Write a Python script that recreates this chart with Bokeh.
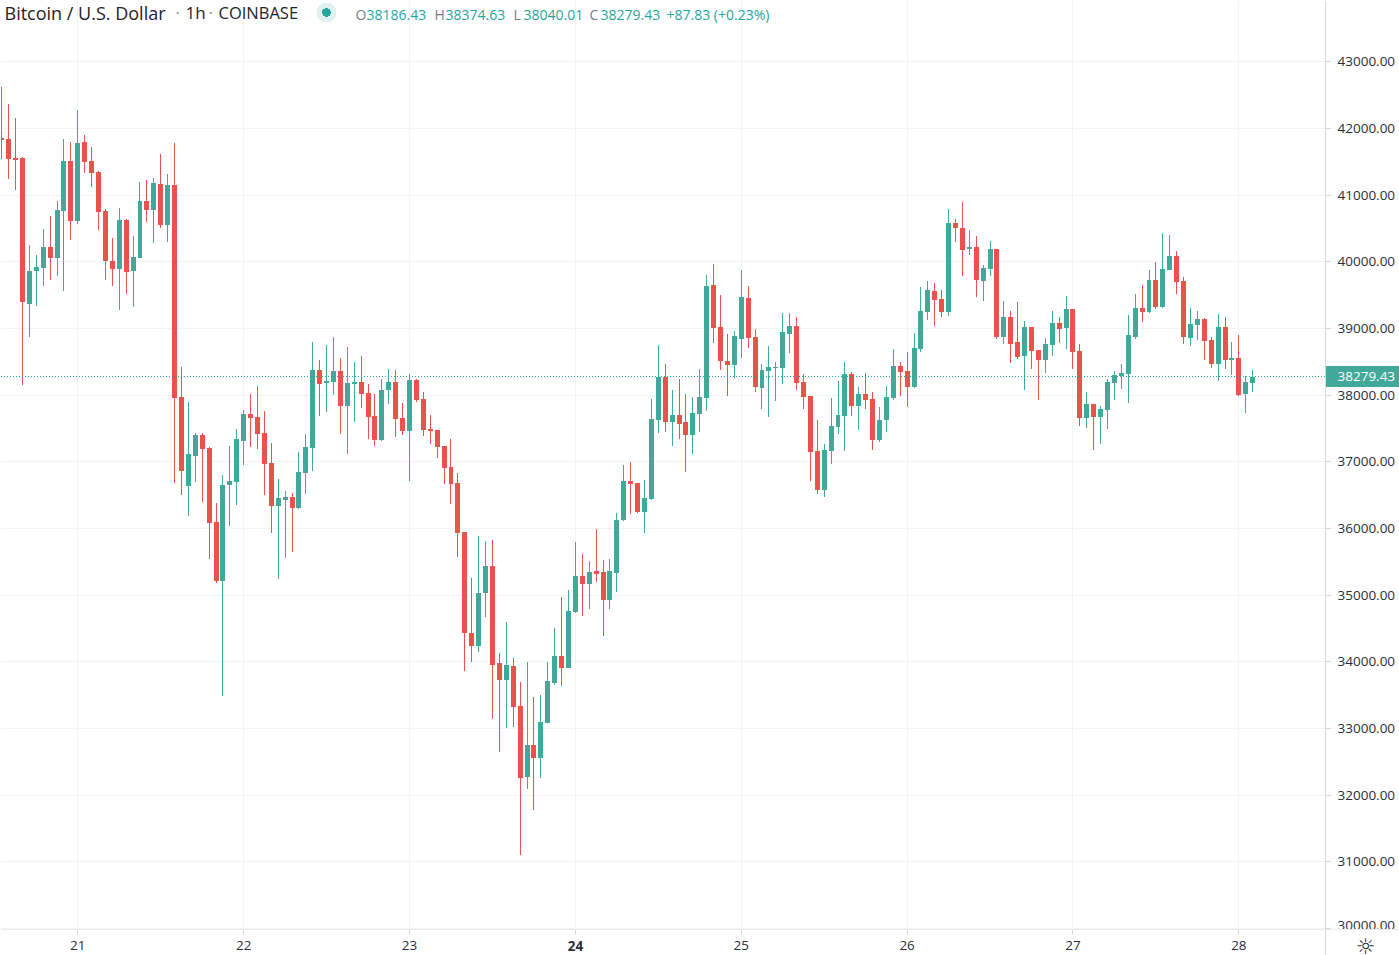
from bokeh.plotting import figure
from bokeh.layouts import column
from bokeh.models import (ColumnDataSource, FixedTicker, Label, LinearAxis, Span,
                          PrintfTickFormatter)
from bokeh.core.properties import value
from bokeh.embed import file_html
from bokeh.resources import INLINE

UP = "#42A99A"
DOWN = "#E9534B"
FONT = "Open Sans"
LINE = "#D6D8DB"

first_hour = -11
opens = [41865,41850,41565,41565,39375,39870,39915,40230,40065,40770,41520,
 40620,41805,41520,41355,40770,40020,39900,40635,39870,40065,40920,40785,41175,
 40560,41160,37980,36645,37095,37410,37215,36105,35220,36660,36705,37320,37725,
 37680,37440,36990,36345,36435,36480,36315,36840,37215,38385,38190,38205,38370,
 37845,38175,38205,38040,37695,37335,38085,38205,37665,
 37470,38235,37950,37500,37485,37245,36930,36690,35955,34440,34245,35040,35445,
 33990,33735,33945,33345,32280,32760,32565,33090,33690,34095,33915,34755,35295,
 35175,35370,35355,34935,35340,36135,36720,36690,36255,36450,
 37635,38280,37605,37710,37605,37410,37725,37965,39660,39030,38520,38460,38850,
 39465,38880,38115,38370,38415,38415,38925,39045,38205,37995,37170,36585,37170,
 37530,37695,38325,37845,38025,37950,37335,37635,37965,38445,
 38370,38130,38700,39255,39570,39450,39255,40590,40515,40200,40230,39720,39900,
 40200,38880,39180,38805,38595,39030,38685,38535,38760,39090,39015,39300,38670,
 37665,37875,37680,37785,38190,38295,38325,38880,39315,39255,39735,39330,39885,
 40095,39720,38865,39060,39150,38835,38475,39030,38535,38565,38025,38186.43]
highs = [42620,42375,42165,41580,40260,40110,40500,40695,40920,41850,41805,
 42285,41910,41730,41370,40800,40365,40815,40650,40395,41205,41235,41265,41625,
 41325,41790,38430,37905,37440,37440,37230,36390,36810,37245,37500,37785,38025,
 38145,37770,37290,36750,36570,36540,37155,37425,38805,38535,38760,38880,38565,
 38730,38505,38595,38175,38025,38250,38400,38385,37890,
 38325,38250,38055,37710,37485,37245,37350,36840,35955,35265,35895,35820,35835,
 34140,34605,34065,33705,34005,33480,33510,34005,34515,34980,35085,35805,35625,
 35520,36000,35535,35550,36240,36960,37005,36690,36735,37950,
 38760,38475,38085,38250,38025,37980,38400,39810,39975,39510,38925,38970,39885,
 39645,39000,38475,38745,38505,39240,39240,39180,38325,37995,37635,37275,37965,
 38220,38505,38355,38130,38340,38055,37830,38145,38700,38505,
 38655,38940,39630,39720,39690,39585,40800,40650,40905,40485,40395,39960,40320,
 40200,39420,39270,39405,39120,39030,38685,38865,39270,39180,39495,39300,38775,
 38055,37875,37845,38250,38370,38475,39210,39525,39660,39885,40005,40440,40410,
 40170,39780,39315,39270,39165,38880,39225,39180,38805,38910,38295,38374.63]
lows = [41550,41250,41085,38160,38880,39345,39645,39735,39795,39570,40335,
 40575,41340,41130,40485,39735,39645,39285,39525,39330,40065,40605,40290,40515,
 40305,36690,36510,36195,36705,36405,35550,35190,33495,36045,36360,36960,37230,
 37200,36510,35940,35250,35565,35655,36300,36525,36870,37695,37755,38010,37425,
 37125,37605,37815,37350,37245,37320,37875,37380,37410,
 36720,37905,37395,37275,37065,36675,36375,35580,33870,34005,34155,34680,33150,
 32655,33015,33030,31110,32100,31785,32265,33090,33660,33645,33915,34740,34695,
 34800,35205,34395,34800,35055,36120,36225,36240,35940,36435,
 37440,37455,37245,37350,36855,37125,37455,37770,38790,38385,37995,38265,38565,
 38715,38055,37800,37680,37920,38175,38640,38085,37800,36720,36525,36480,36975,
 37425,37170,37695,37485,37800,37185,37305,37455,37935,37995,
 37830,38115,38655,39135,39045,39180,39195,40305,39795,40110,39480,39420,39795,
 38850,38775,38490,38550,38085,38400,37935,38340,38595,38790,38700,38400,37545,
 37515,37185,37275,37500,37935,38100,37890,38850,39105,39240,39300,39315,39885,
 39525,38775,38745,38835,38535,38415,38220,38400,38310,37995,37740,38040.01]
closes = [41835,41550,41535,39405,39870,39930,40230,40065,40785,41520,40620,
 41790,41505,41340,40755,40020,39900,40635,39855,40080,40920,40785,41190,40560,
 41160,37965,36870,37125,37410,37200,36090,35220,36660,36720,37350,37725,37665,
 37425,36975,36345,36465,36480,36315,36855,37230,38385,38175,38220,38370,37845,
 38190,38205,38025,37680,37335,38085,38205,37650,37470,
 38235,37935,37485,37470,37230,36915,36675,35940,34440,34245,35040,35445,33960,
 33735,33960,33330,32265,32760,32565,33105,33720,34095,33915,34770,35295,35175,
 35355,35325,34935,35370,36135,36720,36675,36255,36465,37650,
 38280,37605,37710,37575,37410,37740,37980,39645,39015,38520,38460,38895,39480,
 38865,38130,38385,38430,38430,38955,39045,38190,37980,37155,36585,37185,37545,
 37710,38325,37845,38025,37935,37335,37635,37980,38445,38355,
 38130,38715,39270,39585,39435,39255,40590,40515,40185,40230,39735,39915,40200,
 38880,39180,38775,38580,39030,38670,38535,38775,39090,39000,39300,38655,37665,
 37875,37680,37800,38205,38310,38340,38910,39315,39255,39735,39330,39900,40095,
 39705,38880,39075,39150,38820,38475,39030,38535,38565,38010,38205,38279.43]

price_ticks = list(range(30000, 44000, 1000))
day_hours = [0, 24, 48, 72, 96, 120, 144, 168]
day_labels = ["21", "22", "23", "24", "25", "26", "27", "28"]
day_styles = ["normal", "normal", "normal", "bold", "normal", "normal", "normal", "normal"]
last_price = 38279.43
title_parts = ["Bitcoin / U.S. Dollar", "·", "1h", "·", "COINBASE"]
legend_letters = ["O", "H", "L", "C"]
legend_values = ["38186.43", "38374.63", "38040.01", "38279.43", "+87.83 (+0.23%)"]

n = len(opens)
hours = [first_hour + k for k in range(n)]
colors = [UP if closes[k] >= opens[k] else DOWN for k in range(n)]
src = ColumnDataSource(dict(hour=hours, o=opens, h=highs, l=lows, c=closes, color=colors))

PX_PER_HOUR = 6.911
x_lo = -11.185
PANE_W = 1325
RIGHT_W = 74
TOP_H = 929
BOTTOM_H = 26
x_hi = x_lo + PANE_W / PX_PER_HOUR
CRISP = ":host { shape-rendering: crispEdges; }"

p = figure(width=PANE_W + RIGHT_W, height=TOP_H, x_range=(x_lo, x_hi),
           y_range=(43920 - 15 * TOP_H, 43920), y_axis_location="right",
           x_axis_location=None, toolbar_location=None, output_backend="svg",
           min_border=0, min_border_right=RIGHT_W, outline_line_color=None, frame_align=False,
           background_fill_color="white", border_fill_color="white", stylesheets=[CRISP])

p.xgrid.ticker = FixedTicker(ticks=day_hours)
p.ygrid.ticker = FixedTicker(ticks=price_ticks)
p.xgrid.grid_line_color = "#F2F3F5"
p.ygrid.grid_line_color = "#F2F3F5"
ax = p.yaxis[0]
ax.ticker = FixedTicker(ticks=price_ticks, minor_ticks=[last_price])
ax.formatter = PrintfTickFormatter(format="%.2f")
ax.axis_line_color = LINE
ax.major_tick_line_color = LINE
ax.major_tick_out = 5
ax.major_tick_in = 0
ax.minor_tick_line_color = UP
ax.minor_tick_line_width = 21
ax.minor_tick_out = RIGHT_W
ax.minor_tick_in = 0
ax.major_label_standoff = 12 - RIGHT_W
ax.major_label_text_font = FONT
ax.major_label_text_font_size = "13.5px"
ax.major_label_text_color = "#2A2E39"

# price tag text: a second right axis with one tick, its label pulled back over the tag
tag = LinearAxis(ticker=FixedTicker(ticks=[last_price]), formatter=PrintfTickFormatter(format="%.2f"),
                 axis_line_color=None, major_tick_line_color=None, minor_tick_line_color=None,
                 major_tick_out=0, major_tick_in=0, minor_tick_out=0, minor_tick_in=0,
                 major_label_standoff=-61, major_label_text_font=FONT,
                 major_label_text_font_size="13.5px", major_label_text_color="white")
p.add_layout(tag, "right")

p.segment("hour", "h", "hour", "l", source=src, color="color", line_width=1)
p.vbar(x="hour", width=0.72, top="o", bottom="c", source=src, fill_color="color", line_color=None)
p.add_layout(Span(location=last_price, dimension="width", line_color="#26A69A",
                  line_dash="1 2", line_width=1))

def lab(x, text, color, size="14px", y=TOP_H - 14, **kw):
    p.add_layout(Label(x=x, y=y, x_units="screen", y_units="screen", text=text, text_color=color,
                       text_font=FONT, text_font_size=size, text_baseline="middle", **kw))

HEAD = "#1F222B"
lab(4, title_parts[0], HEAD, "18px", y=TOP_H - 12)
lab(175, title_parts[1], "#8A8D96", "17px", y=TOP_H - 12)
lab(185, title_parts[2], HEAD, "17px", y=TOP_H - 12)
lab(208, title_parts[3], "#8A8D96", "17px", y=TOP_H - 12)
lab(218, title_parts[4], HEAD, "16.5px", y=TOP_H - 12)
lab(355, legend_letters[0], "#787B86")
lab(366, legend_values[0], "#26A69A")
lab(434, legend_letters[1], "#787B86")
lab(445, legend_values[1], "#26A69A")
lab(513, legend_letters[2], "#787B86")
lab(523, legend_values[2], "#26A69A")
lab(589, legend_letters[3], "#787B86")
lab(600, legend_values[3], "#26A69A")
lab(666, legend_values[4], "#26A69A")

p.scatter(x=[326 / PX_PER_HOUR + x_lo], y=[43920 - 15 * 12], size=20, fill_color="#DFF0EE", line_color=None)
p.scatter(x=[326 / PX_PER_HOUR + x_lo], y=[43920 - 15 * 12], size=9, fill_color="#26A69A", line_color=None)

# time axis strip: its frame runs under the price scale too
p2 = figure(width=PANE_W + RIGHT_W, height=BOTTOM_H,
            x_range=(x_lo, x_lo + (PANE_W + RIGHT_W) / PX_PER_HOUR), y_range=(BOTTOM_H, 0),
            x_axis_location=None, y_axis_location=None, toolbar_location=None, output_backend="svg",
            min_border=0, outline_line_color=None, frame_align=False, background_fill_color="white",
            border_fill_color="white", stylesheets=[CRISP])
p2.grid.visible = False
p2.add_layout(Span(location=0, dimension="width", line_color=LINE, line_width=1))
p2.add_layout(Span(location=x_hi, dimension="height", line_color=LINE, line_width=1))
days = ColumnDataSource(dict(hour=day_hours, label=day_labels, style=day_styles,
                             y0=[0] * 8, y1=[5] * 8, yt=[16] * 8))
p2.segment("hour", "y0", "hour", "y1", source=days, line_color=LINE, line_width=1)
p2.text("hour", "yt", text="label", source=days, text_font=value(FONT), text_font_size="13.5px",
        text_font_style="style", text_color="#2A2E39", text_align="center", text_baseline="middle")
p2.add_layout(Label(x=PANE_W + 40, y=9, x_units="screen", y_units="screen", text="☼",
                    text_font="DejaVu Sans", text_font_size="22px", text_color="#2A2E39",
                    text_align="center", text_baseline="middle"))

layout = column(p, p2, spacing=0)
open("out.html", "w").write(file_html(layout, INLINE))
